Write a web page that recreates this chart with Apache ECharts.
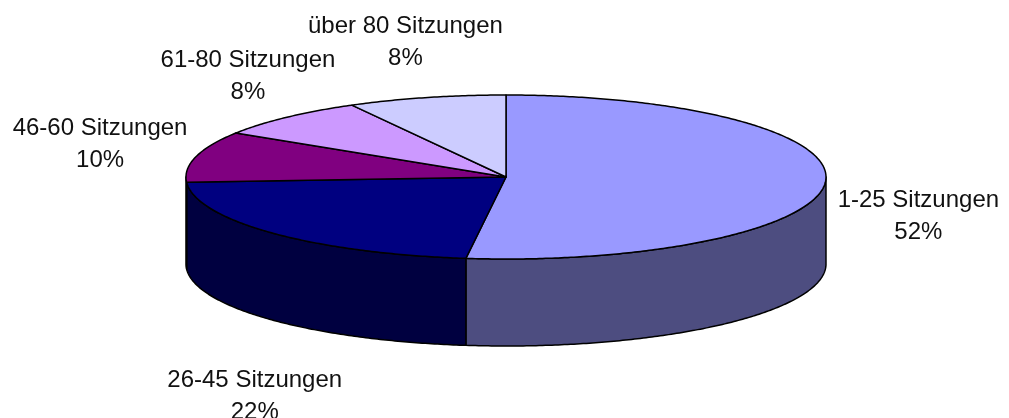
<!DOCTYPE html>
<html>
<head>
<meta charset="utf-8">
<script src="https://cdn.jsdelivr.net/npm/echarts@6/dist/echarts.min.js"></script>
<style>
  html, body { margin: 0; padding: 0; background: #fff; }
  #chart { width: 1009px; height: 418px; }
</style>
</head>
<body>
<div id="chart"></div>
<script>
// Daten
const categories = ['1-25 Sitzungen', '26-45 Sitzungen', '46-60 Sitzungen', '61-80 Sitzungen', 'über 80 Sitzungen'];
const shares = [52, 22, 10, 8, 8];

// Farben (Oberseite / Seitenwand)
const topColors = ['#9999FF', '#000080', '#800080', '#CC99FF', '#CCCCFF'];
const sideColors = ['#4D4D80', '#000040', '#400040', '#664D80', '#666680'];

// Beschriftungen: Verschiebung relativ zum Randpunkt der Segmentmitte
const labelNudge = [[93, 34], [-18, 163], [-96, -12], [-39, -41], [-21, -55]];

// Geometrie der gekippten Torte
const pie = {cx: 506, cy: 177, rx: 320, ry: 82, depth: 87};

const total = shares.reduce((a, b) => a + b, 0);

// Punkt auf der Ellipse, Winkel im Uhrzeigersinn ab 12 Uhr
const rim = (t, dy = 0) => [pie.cx + pie.rx * Math.sin(t), pie.cy - pie.ry * Math.cos(t) + dy];

const arc = (a, b, dy = 0) => {
  const pts = [];
  const n = Math.max(2, Math.ceil((b - a) / 0.01));
  for (let i = 0; i <= n; i++) pts.push(rim(a + (b - a) * i / n, dy));
  return pts;
};

const renderSlice = (params, api) => {
  const i = params.dataIndex;
  let before = 0;
  for (let k = 0; k < i; k++) before += shares[k];
  const a = before / total * Math.PI * 2;
  const b = (before + api.value(0)) / total * Math.PI * 2;
  const children = [];

  // vordere Seitenwand (zwischen 3 Uhr und 9 Uhr sichtbar)
  const s0 = Math.max(a, Math.PI / 2);
  const s1 = Math.min(b, Math.PI * 3 / 2);
  if (s1 > s0) {
    const upper = arc(s0, s1);
    const lower = arc(s0, s1, pie.depth).reverse();
    children.push({
      type: 'polygon',
      shape: {points: upper.concat(lower)},
      style: {fill: sideColors[i], stroke: '#000', lineWidth: 1.5, lineJoin: 'round'}
    });
  }

  // Oberseite
  children.push({
    type: 'polygon',
    shape: {points: [[pie.cx, pie.cy]].concat(arc(a, b))},
    style: {fill: topColors[i], stroke: '#000', lineWidth: 1.5, lineJoin: 'round'}
  });

  // Beschriftung
  const m = rim((a + b) / 2);
  children.push({
    type: 'text',
    x: m[0] + labelNudge[i][0],
    y: m[1] + labelNudge[i][1],
    style: {
      text: categories[i] + '\n' + api.value(0) + '%',
      fontFamily: 'Liberation Sans, Arial, sans-serif',
      fontSize: 24,
      lineHeight: 32,
      fill: '#111',
      align: 'center',
      verticalAlign: 'middle'
    }
  });

  return {type: 'group', children};
};

const chart = echarts.init(document.getElementById('chart'), null, {renderer: 'canvas'});
chart.setOption({
  animation: false,
  series: [{
    type: 'custom',
    coordinateSystem: 'none',
    renderItem: renderSlice,
    data: shares.map(v => [v])
  }]
});
</script>
</body>
</html>
